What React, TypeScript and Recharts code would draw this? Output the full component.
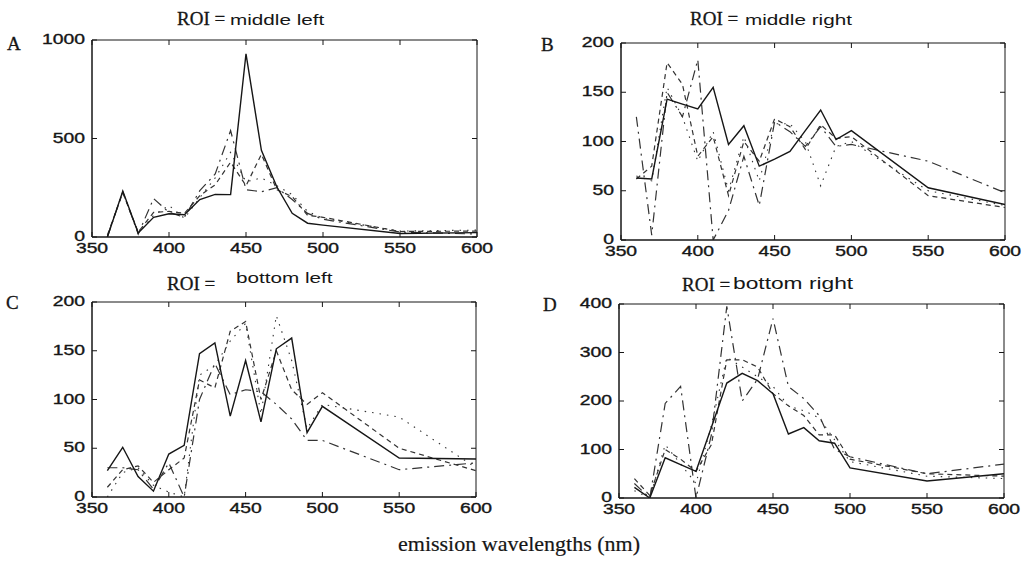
import React from "react";
import { LineChart, Line, XAxis, YAxis, ReferenceArea, ReferenceLine } from "recharts";

const wavelengths = [360, 370, 380, 390, 400, 410, 420, 430, 440, 450, 460, 470, 480, 490, 500, 550, 600];
const xTicks = [350, 400, 450, 500, 550, 600];

// Panel A: ROI = middle left
const aSolid = [0, 233, 20, 100, 118, 113, 190, 216, 215, 930, 440, 255, 120, 70, 60, 18, 22];
const aDashed = [10, 225, 25, 125, 130, 120, 210, 265, 380, 260, 420, 240, 205, 110, 100, 28, 30];
const aDotted = [5, 228, 18, 110, 160, 95, 200, 300, 430, 280, 300, 260, 215, 130, 95, 30, 35];
const aDashDot = [0, 230, 15, 195, 125, 100, 235, 320, 540, 240, 230, 250, 190, 120, 90, 25, 15];
const aTicks = [0, 500, 1000];

// Panel B: ROI = middle right
const bSolid = [63, 62, 143, 138, 133, 155, 97, 116, 75, 82, 90, 111, 132, 102, 111, 53, 36];
const bDashed = [62, 75, 180, 158, 85, 105, 45, 100, 80, 123, 115, 92, 117, 103, 105, 45, 33];
const bDotted = [65, 60, 155, 125, 80, 110, 50, 105, 60, 118, 118, 100, 55, 95, 100, 50, 35];
const bDashDot = [125, 5, 150, 125, 183, 0, 30, 85, 35, 120, 110, 95, 115, 95, 97, 80, 48];
const bTicks = [0, 50, 100, 150, 200];

// Panel C: ROI = bottom left
const cSolid = [27, 51, 21, 6, 44, 53, 147, 158, 83, 140, 77, 152, 163, 66, 93, 40, 39];
const cDashed = [10, 28, 32, 15, 28, 40, 120, 112, 170, 180, 100, 150, 110, 95, 107, 50, 27];
const cDotted = [0, 25, 30, 12, 5, 0, 125, 135, 160, 178, 85, 186, 140, 70, 95, 82, 30];
const cDashDot = [30, 30, 28, 8, 35, 0, 100, 137, 105, 110, 108, 95, 80, 58, 58, 28, 35];
const cTicks = [0, 50, 100, 150, 200];

// Panel D: ROI = bottom right
const dSolid = [22, 0, 83, 69, 55, 146, 237, 257, 242, 215, 132, 145, 118, 113, 62, 35, 50];
const dDashed = [40, 5, 100, 80, 55, 110, 285, 285, 270, 215, 190, 170, 130, 130, 80, 50, 45];
const dDotted = [15, 0, 110, 70, 30, 150, 290, 270, 250, 230, 190, 180, 165, 120, 75, 45, 40];
const dDashDot = [30, 0, 195, 230, 0, 130, 395, 200, 245, 370, 230, 205, 170, 100, 85, 50, 70];
const dTicks = [0, 100, 200, 300, 400];

const INK = "#161616";
const SANS = "'Liberation Sans', Arial, sans-serif";
const SERIF = "'Liberation Serif', 'Times New Roman', serif";
const SX = 1.38;
const X_MIN = 350;
const X_MAX = 600;

function buildRows(s1: number[], s2: number[], s3: number[], s4: number[]) {
  return wavelengths.map((wl, i) => ({ wl, solid: s1[i], dashed: s2[i], dotted: s3[i], dashdot: s4[i] }));
}

const XTick = (props: any) => {
  const { x, y, payload } = props;
  return (
    <text transform={`translate(${x},${y + 13}) scale(${SX},1)`} textAnchor="middle" fontFamily={SANS} fontSize={14} fill={INK} stroke={INK} strokeWidth={0.35}>
      {payload.value}
    </text>
  );
};

const YTick = (props: any) => {
  const { x, y, payload } = props;
  return (
    <text transform={`translate(${x},${y + 4}) scale(${SX},1)`} textAnchor="end" fontFamily={SANS} fontSize={14} fill={INK} stroke={INK} strokeWidth={0.35}>
      {payload.value}
    </text>
  );
};

type PanelProps = {
  box: { x0: number; y0: number; x1: number; y1: number };
  rows: any[];
  yMax: number;
  yTicks: number[];
};

const Panel = ({ box, rows, yMax, yTicks }: PanelProps) => {
  const padL = 90, padT = 10, padR = 30, padB = 35;
  const yw = 60, xh = 30;
  const W = box.x1 - box.x0 + padL + padR;
  const H = box.y1 - box.y0 + padT + padB;
  // inward tick length expressed as a fraction of each axis range (~5px)
  const tickY = yMax * (5 / (box.y1 - box.y0));
  const tickX = (X_MAX - X_MIN) * (5 / (box.x1 - box.x0));
  return (
    <div style={{ position: "absolute", left: box.x0 - padL, top: box.y0 - padT, width: W, height: H }}>
      <LineChart
        width={W}
        height={H}
        data={rows}
        margin={{ top: padT, right: padR, left: padL - yw, bottom: padB - xh }}
      >
        <XAxis
          dataKey="wl"
          type="number"
          domain={[X_MIN, X_MAX]}
          ticks={xTicks}
          height={xh}
          stroke={INK}
          tickSize={-5}
          tickMargin={8}
          tick={<XTick />}
          interval={0}
          allowDataOverflow
        />
        <YAxis
          type="number"
          domain={[0, yMax]}
          ticks={yTicks}
          width={yw}
          stroke={INK}
          tickSize={-5}
          tickMargin={12}
          tick={<YTick />}
          interval={0}
          allowDataOverflow
        />
        <ReferenceArea x1={X_MIN} x2={X_MAX} y1={0} y2={yMax} fill="none" fillOpacity={0} stroke={INK} strokeWidth={1} ifOverflow="visible" />
        {xTicks.map((t) => (
          <ReferenceLine
            key={`tx${t}`}
            segment={[{ x: t, y: yMax }, { x: t, y: yMax - tickY }]}
            stroke={INK}
            ifOverflow="visible"
          />
        ))}
        {yTicks.map((t) => (
          <ReferenceLine
            key={`ty${t}`}
            segment={[{ x: X_MAX, y: t }, { x: X_MAX - tickX, y: t }]}
            stroke={INK}
            ifOverflow="visible"
          />
        ))}
        <Line dataKey="dotted" type="linear" stroke="#333" strokeWidth={1.1} strokeDasharray="1.5 6" dot={false} isAnimationActive={false} />
        <Line dataKey="dashdot" type="linear" stroke="#333" strokeWidth={1.2} strokeDasharray="10 5 2 5" dot={false} isAnimationActive={false} />
        <Line dataKey="dashed" type="linear" stroke="#333" strokeWidth={1.2} strokeDasharray="5 4" dot={false} isAnimationActive={false} />
        <Line dataKey="solid" type="linear" stroke={INK} strokeWidth={1.4} dot={false} isAnimationActive={false} />
      </LineChart>
    </div>
  );
};

const Titles = () => (
  <svg width={1026} height={565} style={{ position: "absolute", left: 0, top: 0, pointerEvents: "none" }}>
    {/* Panel letters */}
    <text x={7} y={50} fontFamily={SERIF} fontSize={19} fill={INK} stroke={INK} strokeWidth={0.3}>A</text>
    <text x={541} y={51} fontFamily={SERIF} fontSize={19} fill={INK} stroke={INK} strokeWidth={0.3}>B</text>
    <text x={6} y={309} fontFamily={SERIF} fontSize={19} fill={INK} stroke={INK} strokeWidth={0.3}>C</text>
    <text x={543} y={311} fontFamily={SERIF} fontSize={19} fill={INK} stroke={INK} strokeWidth={0.3}>D</text>

    {/* A title */}
    <text x={177} y={25} fontFamily={SERIF} fontSize={19} fill={INK} stroke={INK} strokeWidth={0.3}>ROI =</text>
    <text transform={`translate(230,25) scale(${SX},1)`} fontFamily={SANS} fontSize={15} fill={INK}>middle left</text>

    {/* B title */}
    <text x={690} y={25} fontFamily={SERIF} fontSize={19} fill={INK} stroke={INK} strokeWidth={0.3}>ROI =</text>
    <text transform={`translate(745,25) scale(${SX},1)`} fontFamily={SANS} fontSize={15} fill={INK}>middle right</text>

    {/* C title */}
    <text x={167} y={290} fontFamily={SERIF} fontSize={19} fill={INK} stroke={INK} strokeWidth={0.3}>ROI =</text>
    <text transform={`translate(236,283) scale(${SX},1)`} fontFamily={SANS} fontSize={15} fill={INK}>bottom left</text>

    {/* D title */}
    <text x={682} y={291} fontFamily={SERIF} fontSize={19} fill={INK} stroke={INK} strokeWidth={0.3}>ROI =</text>
    <text transform={`translate(733,289) scale(${SX},1)`} fontFamily={SANS} fontSize={16.5} fill={INK}>bottom right</text>

    {/* Shared x-axis label */}
    <text x={398} y={551} textLength={242} lengthAdjust="spacingAndGlyphs" fontFamily={SERIF} fontSize={21} fill={INK} stroke={INK} strokeWidth={0.2}>emission wavelengths (nm)</text>
  </svg>
);

export default function App() {
  return (
    <div style={{ position: "absolute", left: 0, top: 0, width: 1026, height: 565, background: "#fff", overflow: "hidden" }}>
      <Panel box={{ x0: 92, y0: 40, x1: 477, y1: 237 }} rows={buildRows(aSolid, aDashed, aDotted, aDashDot)} yMax={1000} yTicks={aTicks} />
      <Panel box={{ x0: 621, y0: 43, x1: 1005, y1: 240 }} rows={buildRows(bSolid, bDashed, bDotted, bDashDot)} yMax={200} yTicks={bTicks} />
      <Panel box={{ x0: 92, y0: 302, x1: 476, y1: 497 }} rows={buildRows(cSolid, cDashed, cDotted, cDashDot)} yMax={200} yTicks={cTicks} />
      <Panel box={{ x0: 619, y0: 304, x1: 1004, y1: 498 }} rows={buildRows(dSolid, dDashed, dDotted, dDashDot)} yMax={400} yTicks={dTicks} />
      <Titles />
    </div>
  );
}
